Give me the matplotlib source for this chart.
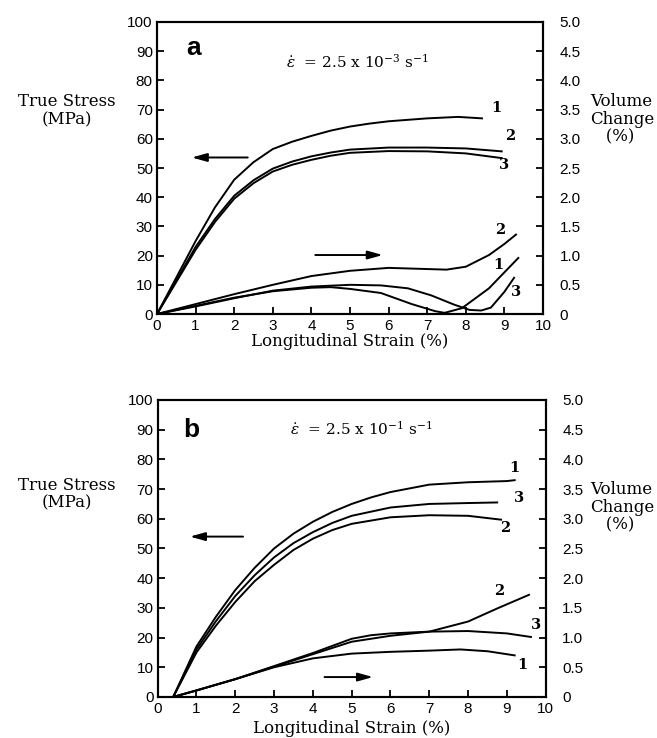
import matplotlib
matplotlib.use("Agg")
import matplotlib.pyplot as plt

plt.rcParams['mathtext.fontset'] = 'dejavuserif'

# ---- panel a: strain rate 2.5e-3 ----
a_s1_x = [0, 0.5, 1, 1.5, 2, 2.5, 3, 3.5, 4, 4.5, 5, 5.5, 6, 7, 7.8, 8.42]
a_s1_y = [0, 12.5, 25, 36.5, 46, 52, 56.5, 59, 61, 62.8, 64.2, 65.2, 66, 67, 67.5, 67]
a_s2_x = [0, 0.5, 1, 1.5, 2, 2.5, 3, 3.5, 4, 4.5, 5, 6, 7, 8, 8.93]
a_s2_y = [0, 11.5, 23, 32.5, 40.5, 45.8, 49.8, 52.2, 54, 55.3, 56.3, 57, 57, 56.7, 55.7]
a_s3_x = [0, 0.5, 1, 1.5, 2, 2.5, 3, 3.5, 4, 4.5, 5, 6, 7, 8, 8.93]
a_s3_y = [0, 11, 22, 31.5, 39.5, 44.8, 48.8, 51.1, 52.8, 54.2, 55.2, 55.8, 55.7, 55, 53.4]

a_v1_x = [0, 1, 2, 3, 4, 4.5, 5, 5.8, 6.6, 7.2, 7.45, 7.9, 8.6, 9.36]
a_v1_y = [0, 0.14, 0.28, 0.39, 0.45, 0.46, 0.43, 0.36, 0.17, 0.05, 0.02, 0.1, 0.44, 0.96]
a_v2_x = [0, 1, 2, 3, 4, 5, 6, 7, 7.5, 8, 8.6, 9, 9.3]
a_v2_y = [0, 0.17, 0.34, 0.5, 0.65, 0.74, 0.79, 0.77, 0.76, 0.81, 1.01, 1.2, 1.36]
a_v3_x = [0, 1, 2, 3, 4, 5, 5.8, 6.5, 7.1, 7.7, 8.1, 8.4, 8.65, 9.0, 9.25]
a_v3_y = [0, 0.13, 0.27, 0.4, 0.47, 0.5, 0.49, 0.44, 0.32, 0.16, 0.07, 0.06, 0.11, 0.38, 0.62]

# ---- panel b: strain rate 2.5e-1 ----
b_s1_x = [0.4, 1, 1.5, 2, 2.5, 3, 3.5, 4, 4.5, 5, 5.5, 6, 7, 8, 9, 9.2]
b_s1_y = [0, 17, 27, 36, 43.5, 50, 55, 59, 62.3, 65, 67.2, 69, 71.5, 72.3, 72.7, 73]
b_s3_x = [0.4, 1, 1.5, 2, 2.5, 3, 3.5, 4, 4.5, 5, 6, 7, 8, 8.75]
b_s3_y = [0, 16, 25.5, 34, 41, 47, 51.8, 55.5, 58.6, 61, 63.8, 65, 65.3, 65.5]
b_s2_x = [0.4, 1, 1.5, 2, 2.5, 3, 3.5, 4, 4.5, 5, 6, 7, 8, 8.85]
b_s2_y = [0, 15, 24, 32, 39, 44.5, 49.5, 53.3, 56.2, 58.3, 60.5, 61.2, 61, 59.7]

b_v1_x = [0.4, 1, 2, 3, 4, 5, 6, 7, 7.8, 8.5, 9.2]
b_v1_y = [0, 0.11, 0.3, 0.5, 0.65, 0.73, 0.76, 0.78, 0.8, 0.77, 0.7]
b_v2_x = [0.4, 1, 2, 3, 4, 5, 6, 7, 8, 8.75, 9.57]
b_v2_y = [0, 0.11, 0.3, 0.51, 0.72, 0.93, 1.03, 1.1, 1.27, 1.49, 1.72]
b_v3_x = [0.4, 1, 2, 3, 4, 5, 5.5, 6, 7, 8, 9, 9.62]
b_v3_y = [0, 0.11, 0.3, 0.52, 0.74, 0.98, 1.04, 1.07, 1.1, 1.11, 1.07, 1.01]

xticks = list(range(0, 11))
lticks = list(range(0, 101, 10))
rticks = [0, 0.5, 1.0, 1.5, 2.0, 2.5, 3.0, 3.5, 4.0, 4.5, 5.0]
rlabels = ['0'] + ['%.1f' % v for v in rticks[1:]]

SERIF = 'DejaVu Serif'
SANS = 'Liberation Sans'
LW = 1.4


def setup(ax, ax2):
    ax.set_xlim(0, 10)
    ax.set_ylim(0, 100)
    ax2.set_ylim(0, 5)
    ax.set_xticks(xticks)
    ax.set_yticks(lticks)
    ax2.set_yticks(rticks)
    ax2.set_yticklabels(rlabels)
    for a in (ax, ax2):
        a.tick_params(direction='in', length=5, width=1.3, labelsize=11)
        for lab in a.get_xticklabels() + a.get_yticklabels():
            lab.set_family(SANS)
        for sp in a.spines.values():
            sp.set_linewidth(1.5)
    ax.tick_params(axis='y', pad=3)
    ax2.tick_params(axis='y', pad=12)


def arrow(ax, x0, x1, y):
    ax.annotate('', xy=(x1, y), xytext=(x0, y),
                arrowprops=dict(arrowstyle='-|>,head_length=0.9,head_width=0.25',
                                color='black', lw=1.4, shrinkA=0, shrinkB=0))


def lab(ax, x, y, s):
    ax.text(x, y, s, family=SERIF, fontsize=10.5, fontweight='bold',
            ha='center', va='center')


fig = plt.figure(figsize=(6.57, 7.38), dpi=100)

# panel a
ax = fig.add_axes([0.239, 0.5745, 0.5875, 0.3957])
ax2 = ax.twinx()
setup(ax, ax2)
for xs, ys in [(a_s1_x, a_s1_y), (a_s2_x, a_s2_y), (a_s3_x, a_s3_y)]:
    ax.plot(xs, ys, color='black', lw=LW)
for xs, ys in [(a_v1_x, a_v1_y), (a_v2_x, a_v2_y), (a_v3_x, a_v3_y)]:
    ax2.plot(xs, ys, color='black', lw=LW)
arrow(ax, 2.35, 0.9, 53.6)
arrow(ax, 4.1, 5.85, 20.2)
ax.text(0.95, 91, 'a', family=SANS, fontsize=19, fontweight='bold', ha='center', va='center')
ax.text(3.35, 86.5, r'$\dot{\varepsilon}$  = 2.5 x 10$^{-3}$ s$^{-1}$',
        family=SERIF, fontsize=11, va='center')
lab(ax, 8.8, 70.5, '1')
lab(ax, 9.15, 61, '2')
lab(ax, 9.0, 51, '3')
lab(ax, 8.9, 28.6, '2')
lab(ax, 8.85, 16.7, '1')
lab(ax, 9.3, 7.4, '3')
ax.set_xlabel('Longitudinal Strain (%)', family=SERIF, fontsize=12, labelpad=0)
fig.text(0.102, 0.85, 'True Stress\n(MPa)', family=SERIF, fontsize=12,
         ha='center', va='center', linespacing=1.05)
fig.text(0.898, 0.838, 'Volume\nChange\n   (%)', family=SERIF, fontsize=12,
         ha='left', va='center', linespacing=1.05)

# panel b
bx = fig.add_axes([0.240, 0.0556, 0.5906, 0.4024])
bx2 = bx.twinx()
setup(bx, bx2)
for xs, ys in [(b_s1_x, b_s1_y), (b_s2_x, b_s2_y), (b_s3_x, b_s3_y)]:
    bx.plot(xs, ys, color='black', lw=LW)
for xs, ys in [(b_v1_x, b_v1_y), (b_v2_x, b_v2_y), (b_v3_x, b_v3_y)]:
    bx2.plot(xs, ys, color='black', lw=LW)
arrow(bx, 2.2, 0.83, 54)
arrow(bx, 4.3, 5.55, 6.7)
bx.text(0.87, 90, 'b', family=SANS, fontsize=19, fontweight='bold', ha='center', va='center')
bx.text(3.4, 90.2, r'$\dot{\varepsilon}$  = 2.5 x 10$^{-1}$ s$^{-1}$',
        family=SERIF, fontsize=11, va='center')
lab(bx, 9.2, 77, '1')
lab(bx, 9.3, 67, '3')
lab(bx, 8.95, 57, '2')
lab(bx, 8.8, 35.6, '2')
lab(bx, 9.75, 24.2, '3')
lab(bx, 9.4, 10.7, '1')
bx.set_xlabel('Longitudinal Strain (%)', family=SERIF, fontsize=12, labelpad=3)
fig.text(0.102, 0.33, 'True Stress\n(MPa)', family=SERIF, fontsize=12,
         ha='center', va='center', linespacing=1.05)
fig.text(0.898, 0.313, 'Volume\nChange\n   (%)', family=SERIF, fontsize=12,
         ha='left', va='center', linespacing=1.05)

fig.savefig('out.png', dpi=100)
